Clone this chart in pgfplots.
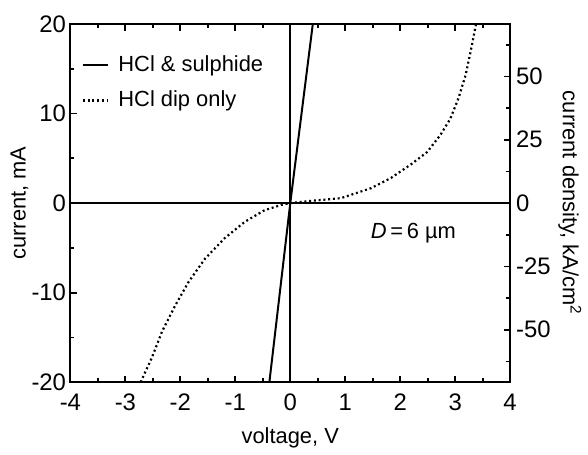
\documentclass[border=0pt]{standalone}
\usepackage{pgfplots}
\pgfplotsset{compat=1.18}
\usepackage{fontspec}
\setmainfont{Liberation Sans}
\begin{document}
\begin{tikzpicture}
\pgfplotsset{
  every axis/.append style={
    scale only axis=true, width=221pt, height=180pt,
    tick align=inside, axis line style={line width=1pt},
    major tick length=3.3pt, minor tick length=2pt,
    every tick/.style={line width=0.9pt, black},
    /pgf/number format/assume math mode=true,
    tick label style={font=\fontsize{12}{14}\selectfont},
    label style={font=\fontsize{11}{13}\selectfont},
  }
}
\begin{axis}[
  name=main,
  xmin=-4, xmax=4, ymin=-20, ymax=20,
  xtick={-4,-3,-2,-1,0,1,2,3,4},
  minor x tick num=1,
  ytick={-20,-10,0,10,20},
  minor y tick num=1,
  ytick pos=left, xtick pos=both,
  yticklabel style={inner xsep=2pt},
  xticklabel style={yshift=-2.5pt},
  xlabel={voltage, V}, ylabel={current, mA},
  xlabel shift=1.5pt, ylabel shift=-4pt,
  legend style={at={(0.025,0.925)}, anchor=north west, draw=none, fill=none,
    font=\fontsize{11}{13}\selectfont, row sep=4.5pt, inner sep=0pt,
    /tikz/every odd column/.append style={column sep=2.5pt}},
  legend cell align=left,
  legend image code/.code={\draw[#1] (0cm,0cm) -- (0.45cm,0cm);},
  clip=true,
]
\addplot[black, line width=1pt] coordinates {(-0.38,-20) (0,0) (0.41,20)};
\addlegendentry{HCl \& sulphide}
\addplot[black, line width=1.1pt, dash pattern=on 1pt off 1.4pt] coordinates {
(-2.72,-20) (-2.70,-19.7) (-2.52,-17.3) (-2.33,-14.3) (-2.09,-11.4) (-1.85,-8.8)
(-1.55,-6.2) (-1.19,-3.9) (-0.83,-2.1) (-0.47,-0.8) (-0.16,-0.2) (0,0)
(0.38,0.25) (0.92,0.55) (1.47,1.67) (1.83,2.8) (2.19,4.3) (2.49,5.7)
(2.73,7.6) (2.91,9.4) (3.06,11.7) (3.19,14.3) (3.28,16.9) (3.38,20)};
\addlegendentry{HCl dip only}
\addplot[black, line width=0.9pt, forget plot] coordinates {(-4,0) (4,0)};
\addplot[black, line width=0.9pt, forget plot] coordinates {(0,-20) (0,20)};
\node[font=\fontsize{11}{13}\selectfont] at (axis cs:2.24,-3.3) {\textit{D}\,=\,6 µm};
\end{axis}
\begin{axis}[
  xmin=-4, xmax=4, ymin=-70.7, ymax=70.7,
  axis y line*=right, axis x line=none,
  ytick={-50,-25,0,25,50},
  minor ytick={-62.5,-37.5,-12.5,12.5,37.5,62.5},
  yticklabel style={inner xsep=2.8pt},
  ylabel={current density, kA/cm\textsuperscript{2}},
  ylabel style={rotate=180}, ylabel shift=-2.5pt,
]
\addplot[draw=none] coordinates {(0,0)};
\end{axis}
\path ([xshift=-2pt,yshift=4.5pt]current bounding box.north west);
\end{tikzpicture}
\end{document}
